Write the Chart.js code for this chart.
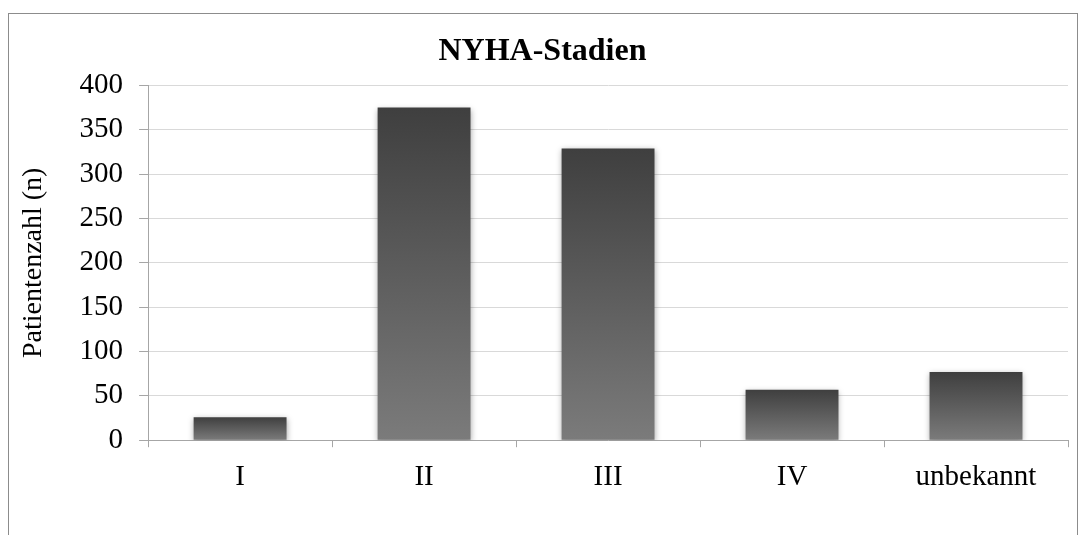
<!DOCTYPE html>
<html>
<head>
<meta charset="utf-8">
<script src="https://cdn.jsdelivr.net/npm/chart.js@4/dist/chart.umd.min.js"></script>
<style>
  html, body { margin: 0; padding: 0; background: #fff; }
  #wrap { position: relative; width: 1092px; height: 535px; }
</style>
</head>
<body>
<div id="wrap"><canvas id="nyhaChart"></canvas></div>
<script>
// data
var stages = ['I', 'II', 'III', 'IV', 'unbekannt'];
var patients = [26, 375, 329, 57, 77];
var yTicks = [0, 50, 100, 150, 200, 250, 300, 350, 400];

// gradient per bar, dark at top, lighter at bottom
function barGradient(context) {
  var chart = context.chart;
  var y = chart.scales.y;
  if (!y || !chart.chartArea || context.parsed == null) return '#555555';
  var top = y.getPixelForValue(context.parsed.y);
  var bottom = y.getPixelForValue(0);
  var g = chart.ctx.createLinearGradient(0, top, 0, bottom);
  g.addColorStop(0, '#3f3f3f');
  g.addColorStop(1, '#7b7b7b');
  return g;
}

// outer frame + bar shadow
var framePlugin = {
  id: 'frame',
  beforeDraw: function(chart) {
    var c = chart.ctx;
    c.save();
    c.strokeStyle = '#8c8c8c';
    c.lineWidth = 1;
    c.strokeRect(8.5, 13.5, 1069, 600);
    c.restore();
  },
  beforeDatasetDraw: function(chart) {
    var c = chart.ctx;
    c.save();
    c.shadowColor = 'rgba(0,0,0,0.35)';
    c.shadowBlur = 6;
    c.shadowOffsetX = 0;
    c.shadowOffsetY = 2;
  },
  afterDatasetDraw: function(chart) {
    chart.ctx.restore();
  }
};

var serif = 'Liberation Serif';

var ctx = document.getElementById('nyhaChart').getContext('2d');
var nyhaChart = new Chart(ctx, {
  type: 'bar',
  data: {
    labels: stages,
    datasets: [{
      label: 'Patientenzahl',
      data: patients,
      backgroundColor: barGradient,
      borderWidth: 0,
      categoryPercentage: 1.0,
      barPercentage: 0.505
    }]
  },
  plugins: [framePlugin],
  options: {
    responsive: true,
    maintainAspectRatio: false,
    animation: false,
    layout: {
      padding: { left: 17, right: 24, top: 33, bottom: 27 }
    },
    plugins: {
      legend: {
        display: false
      },
      tooltip: {
        enabled: false
      },
      title: {
        display: true,
        text: 'NYHA-Stadien',
        color: '#000',
        font: { family: serif, size: 32, weight: 'bold' },
        padding: { top: 0, bottom: 14 }
      }
    },
    scales: {
      y: {
        min: 0,
        max: 400,
        afterBuildTicks: function(scale) {
          scale.ticks = yTicks.map(function(v) { return { value: v }; });
        },
        border: { color: '#a6a6a6', width: 1 },
        grid: {
          color: '#d9d9d9',
          tickColor: '#a6a6a6',
          tickLength: 9
        },
        ticks: {
          color: '#000',
          padding: 16,
          font: { family: serif, size: 29 }
        },
        title: {
          display: true,
          text: 'Patientenzahl (n)',
          color: '#000',
          font: { family: serif, size: 28 },
          padding: { top: 0, bottom: 13 }
        }
      },
      x: {
        border: { color: '#a6a6a6', width: 1 },
        grid: {
          drawOnChartArea: false,
          tickColor: '#a6a6a6',
          tickLength: 7,
          offset: true
        },
        ticks: {
          color: '#000',
          padding: 13,
          font: { family: serif, size: 29 }
        }
      }
    }
  }
});
</script>
</body>
</html>
